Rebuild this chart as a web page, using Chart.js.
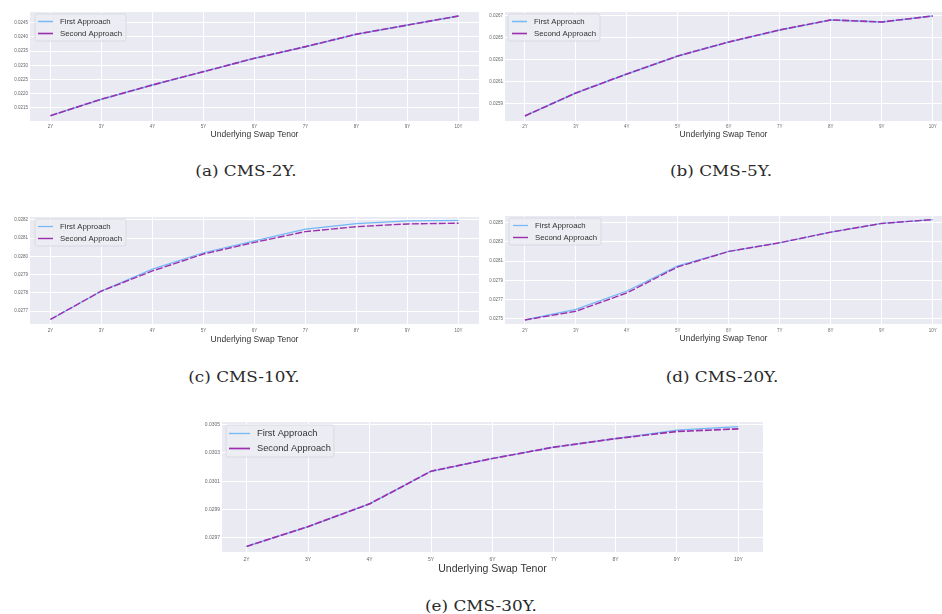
<!DOCTYPE html>
<html><head><meta charset="utf-8">
<script src="https://cdn.jsdelivr.net/npm/chart.js@4.4.1/dist/chart.umd.min.js"></script>
<style>
html,body{margin:0;padding:0;background:#fff;width:942px;height:614px;overflow:hidden;position:relative;}
.panel{position:absolute;}
.cap{position:absolute;font-family:'DejaVu Serif','Liberation Serif',serif;font-size:15px;color:#2a2a2a;white-space:nowrap;line-height:1;transform:translate(-50%,-50%) scaleX(1.12);}
</style></head><body>
<script>
// ---------- data ----------
const tenorLabels = ['2Y','3Y','4Y','5Y','6Y','7Y','8Y','9Y','10Y'];
const tenors = [2,3,4,5,6,7,8,9,10];
const seriesNames = ['First Approach','Second Approach'];
const xAxisTitle = 'Underlying Swap Tenor';
const captions = ['(a) CMS-2Y.','(b) CMS-5Y.','(c) CMS-10Y.','(d) CMS-20Y.','(e) CMS-30Y.'];

const cms2yFirst  = [0.02123,0.02181,0.02231,0.02278,0.02325,0.02366,0.02410,0.02442,0.02474];
const cms2ySecond = [0.02123,0.02181,0.02231,0.02278,0.02325,0.02366,0.02410,0.02442,0.02474];
const cms2yTicks  = [0.0215,0.0220,0.0225,0.0230,0.0235,0.0240,0.0245];

const cms5yFirst  = [0.025791,0.026000,0.026173,0.026336,0.026464,0.026573,0.026664,0.026645,0.026700];
const cms5ySecond = [0.025791,0.026000,0.026173,0.026336,0.026464,0.026573,0.026664,0.026645,0.026700];
const cms5yTicks  = [0.0259,0.0261,0.0263,0.0265,0.0267];

const cms10yFirst  = [0.027654,0.027810,0.027930,0.028020,0.028085,0.028149,0.028180,0.028195,0.028198];
const cms10ySecond = [0.027654,0.027810,0.027920,0.028013,0.028077,0.028136,0.028163,0.028178,0.028182];
const cms10yTicks  = [0.0277,0.0278,0.0279,0.0280,0.0281,0.0282];

const cms20yFirst  = [0.027490,0.027600,0.027790,0.028050,0.028200,0.028290,0.028400,0.028490,0.028530];
const cms20ySecond = [0.027490,0.027580,0.027770,0.028040,0.028200,0.028290,0.028400,0.028490,0.028530];
const cms20yTicks  = [0.0275,0.0277,0.0279,0.0281,0.0283,0.0285];

const cms30yFirst  = [0.029640,0.029780,0.029940,0.030170,0.030260,0.030340,0.030400,0.030460,0.030485];
const cms30ySecond = [0.029640,0.029780,0.029940,0.030170,0.030260,0.030340,0.030400,0.030450,0.030469];
const cms30yTicks  = [0.0297,0.0299,0.0301,0.0303,0.0305];

// ---------- layout / style ----------
const BLUE = '#74b8f6';
const PURPLE = '#9c2fae';
const FONT = '"Liberation Sans", Arial, sans-serif';

const panels = [
  {first:cms2yFirst, second:cms2ySecond, yTicks:cms2yTicks, left:0, top:0, w:482, h:142, yW:30, xH:21, padTop:12, padRight:3,
   yMin:0.021042, yMax:0.02488, xMin:1.6, xMax:10.4, tick:4.5, title:8.5, titlePad:2, tickPad:3,
   leg:{font:7.8, dx:5, dy:2, padL:3, lineLen:15, gap:7, padR:4, rowH:12, padV:1.5}, bw:[1.5,1.6],
   cap:{x:246, y:171}},
  {first:cms5yFirst, second:cms5ySecond, yTicks:cms5yTicks, left:470, top:0, w:472, h:142, yW:35, xH:21, padTop:12, padRight:0,
   yMin:0.025745, yMax:0.026736, xMin:1.61, xMax:10.18, tick:4.5, title:8.5, titlePad:2, tickPad:3,
   leg:{font:7.8, dx:3, dy:2, padL:4, lineLen:15, gap:7, padR:4, rowH:12, padV:1.5}, bw:[1.5,1.6],
   cap:{x:721, y:171}},
  {first:cms10yFirst, second:cms10ySecond, yTicks:cms10yTicks, left:0, top:205, w:482, h:142, yW:30, xH:23, padTop:12, padRight:3,
   yMin:0.027629, yMax:0.028216, xMin:1.6, xMax:10.4, tick:4.5, title:8.5, titlePad:2, tickPad:4,
   leg:{font:7.8, dx:5, dy:2, padL:3, lineLen:15, gap:7, padR:4, rowH:12, padV:1.5}, bw:[1.2,1.4],
   cap:{x:244, y:377}},
  {first:cms20yFirst, second:cms20ySecond, yTicks:cms20yTicks, left:470, top:205, w:472, h:142, yW:35, xH:23, padTop:11, padRight:0,
   yMin:0.027448, yMax:0.028567, xMin:1.61, xMax:10.18, tick:4.5, title:8.5, titlePad:3, tickPad:4,
   leg:{font:7.8, dx:4, dy:2, padL:4, lineLen:15, gap:7, padR:4, rowH:12, padV:1.5}, bw:[1.2,1.4],
   cap:{x:722, y:377}},
  {first:cms30yFirst, second:cms30ySecond, yTicks:cms30yTicks, left:190, top:410, w:580, h:166, yW:32, xH:24, padTop:12, padRight:7,
   yMin:0.029601, yMax:0.030517, xMin:1.6, xMax:10.4, tick:5, title:10.5, titlePad:1, tickPad:5,
   leg:{font:9.3, dx:4, dy:3, padL:3, lineLen:21, gap:7, padR:3, rowH:15, padV:1}, bw:[1.3,1.7],
   cap:{x:481, y:606}}
];

// ---------- plugins ----------
const plotBg = {
  id:'plotBg',
  beforeDraw(chart){
    const {ctx, chartArea:a} = chart;
    ctx.save();
    ctx.fillStyle = '#EAEAF2';
    ctx.fillRect(a.left, a.top, a.right-a.left, a.bottom-a.top);
    ctx.restore();
  }
};

const legendBox = {
  id:'legendBox',
  afterDatasetsDraw(chart, args, o){
    const ctx = chart.ctx, ca = chart.chartArea;
    const ds = chart.data.datasets;
    ctx.save();
    ctx.font = o.font + 'px ' + FONT;
    const tw = Math.max(...ds.map(d => ctx.measureText(d.label).width));
    const x = ca.left + o.dx, y = ca.top + o.dy;
    const w = o.padL + o.lineLen + o.gap + tw + o.padR;
    const h = o.rowH*ds.length + o.padV*2;
    ctx.beginPath();
    if (ctx.roundRect) ctx.roundRect(x, y, w, h, 2); else ctx.rect(x, y, w, h);
    ctx.fillStyle = 'rgba(236,236,243,0.85)';
    ctx.fill();
    ctx.strokeStyle = 'rgba(214,214,224,1)';
    ctx.lineWidth = 0.8;
    ctx.stroke();
    ds.forEach((d, i) => {
      const cy = y + o.padV + o.rowH*(i+0.5);
      ctx.setLineDash([]);
      ctx.strokeStyle = d.borderColor;
      ctx.lineWidth = d.borderWidth;
      ctx.beginPath();
      ctx.moveTo(x + o.padL, cy);
      ctx.lineTo(x + o.padL + o.lineLen, cy);
      ctx.stroke();
      ctx.fillStyle = '#333';
      ctx.textBaseline = 'middle';
      ctx.textAlign = 'left';
      ctx.fillText(d.label, x + o.padL + o.lineLen + o.gap, cy);
    });
    ctx.restore();
  }
};

// ---------- build ----------
panels.forEach((p, idx) => {
  const div = document.createElement('div');
  div.className = 'panel';
  div.style.left = p.left + 'px'; div.style.top = p.top + 'px';
  div.style.width = p.w + 'px'; div.style.height = p.h + 'px';
  const cv = document.createElement('canvas');
  cv.width = p.w; cv.height = p.h;
  cv.style.width = p.w + 'px'; cv.style.height = p.h + 'px';
  div.appendChild(cv);
  document.body.appendChild(div);

  const cap = document.createElement('div');
  cap.className = 'cap';
  cap.style.left = p.cap.x + 'px'; cap.style.top = p.cap.y + 'px';
  cap.textContent = captions[idx];
  document.body.appendChild(cap);

  const toPts = arr => tenors.map((t, i) => ({x:t, y:arr[i]}));

  new Chart(cv, {
    type:'line',
    data:{
      datasets:[
        {label:seriesNames[0], data:toPts(p.first), borderColor:BLUE, backgroundColor:BLUE,
         borderWidth:p.bw[0], pointRadius:0, tension:0, fill:false, order:2},
        {label:seriesNames[1], data:toPts(p.second), borderColor:PURPLE, backgroundColor:PURPLE,
         borderWidth:p.bw[1], pointRadius:0, tension:0, fill:false, borderDash:[7,2], order:1}
      ]
    },
    options:{
      responsive:false, animation:false, devicePixelRatio:1,
      layout:{padding:{top:p.padTop, right:p.padRight, left:0, bottom:0}},
      plugins:{
        legend:{display:false}, tooltip:{enabled:false},
        legendBox:p.leg
      },
      scales:{
        x:{
          type:'linear', min:p.xMin, max:p.xMax,
          afterBuildTicks: s => { s.ticks = tenors.map(v => ({value:v})); },
          afterFit: s => { s.height = p.xH; },
          grid:{color:'#ffffff', lineWidth:1, drawTicks:false},
          border:{display:false},
          ticks:{padding:p.tickPad, maxRotation:0, autoSkip:false,
                 color:'#666', font:{family:FONT, size:p.tick},
                 callback: v => { const i = tenors.indexOf(Math.round(v)); return i >= 0 ? tenorLabels[i] : ''; }},
          title:{display:true, text:xAxisTitle, color:'#333', font:{family:FONT, size:p.title},
                 padding:{top:0, bottom:p.titlePad}}
        },
        y:{
          min:p.yMin, max:p.yMax,
          afterBuildTicks: s => { s.ticks = p.yTicks.map(v => ({value:v})); },
          afterFit: s => { s.width = p.yW; },
          grid:{color:'#ffffff', lineWidth:1, drawTicks:false},
          border:{display:false},
          ticks:{padding:2, autoSkip:false,
                 color:'#666', font:{family:FONT, size:p.tick},
                 callback: v => Number(v).toFixed(4)}
        }
      }
    },
    plugins:[plotBg, legendBox]
  });
});
</script>
</body></html>
